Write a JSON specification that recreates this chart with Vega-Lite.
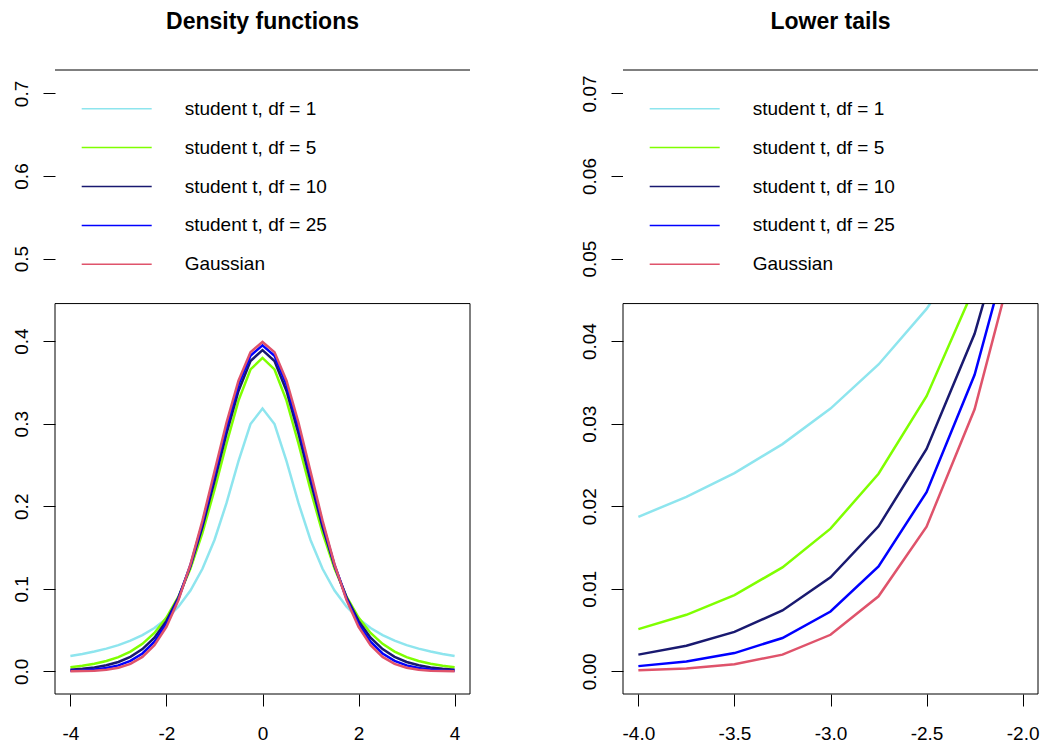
{
  "$schema": "https://vega.github.io/schema/vega-lite/v6.json",
  "background": "white",
  "padding": {"left": 12, "top": 10, "right": 3, "bottom": 3},
  "config": {
    "view": {"stroke": null},
    "font": "Liberation Sans",
    "axis": {"domain": false, "grid": false, "tickColor": "black", "tickSize": 12, "tickWidth": 1, "labelFont": "Liberation Sans", "labelFontSize": 19, "labelColor": "black", "labelOverlap": false, "labelFlush": false},
    "title": {"font": "Liberation Sans", "fontSize": 23, "fontWeight": "bold", "color": "black"},
    "legend": {"labelFont": "Liberation Sans", "labelFontSize": 19, "labelColor": "black", "labelLimit": 400, "padding": 0}
  },
  "datasets": {
    "dens": [
      {"x":-4,"series":"student t, df = 1","y":0.018724},{"x":-3.75,"series":"student t, df = 1","y":0.021133},{"x":-3.5,"series":"student t, df = 1","y":0.024023},{"x":-3.25,"series":"student t, df = 1","y":0.027530},{"x":-3,"series":"student t, df = 1","y":0.031831},{"x":-2.75,"series":"student t, df = 1","y":0.037175},{"x":-2.5,"series":"student t, df = 1","y":0.043905},{"x":-2.25,"series":"student t, df = 1","y":0.052505},{"x":-2,"series":"student t, df = 1","y":0.063662},{"x":-1.75,"series":"student t, df = 1","y":0.078353},{"x":-1.5,"series":"student t, df = 1","y":0.097942},{"x":-1.25,"series":"student t, df = 1","y":0.124218},{"x":-1,"series":"student t, df = 1","y":0.159155},{"x":-0.75,"series":"student t, df = 1","y":0.203718},{"x":-0.5,"series":"student t, df = 1","y":0.254648},{"x":-0.25,"series":"student t, df = 1","y":0.299586},{"x":0,"series":"student t, df = 1","y":0.318310},{"x":0.25,"series":"student t, df = 1","y":0.299586},{"x":0.5,"series":"student t, df = 1","y":0.254648},{"x":0.75,"series":"student t, df = 1","y":0.203718},{"x":1,"series":"student t, df = 1","y":0.159155},{"x":1.25,"series":"student t, df = 1","y":0.124218},{"x":1.5,"series":"student t, df = 1","y":0.097942},{"x":1.75,"series":"student t, df = 1","y":0.078353},{"x":2,"series":"student t, df = 1","y":0.063662},{"x":2.25,"series":"student t, df = 1","y":0.052505},{"x":2.5,"series":"student t, df = 1","y":0.043905},{"x":2.75,"series":"student t, df = 1","y":0.037175},{"x":3,"series":"student t, df = 1","y":0.031831},{"x":3.25,"series":"student t, df = 1","y":0.027530},{"x":3.5,"series":"student t, df = 1","y":0.024023},{"x":3.75,"series":"student t, df = 1","y":0.021133},{"x":4,"series":"student t, df = 1","y":0.018724},
      {"x":-4,"series":"student t, df = 5","y":0.005124},{"x":-3.75,"series":"student t, df = 5","y":0.006850},{"x":-3.5,"series":"student t, df = 5","y":0.009244},{"x":-3.25,"series":"student t, df = 5","y":0.012590},{"x":-3,"series":"student t, df = 5","y":0.017293},{"x":-2.75,"series":"student t, df = 5","y":0.023934},{"x":-2.5,"series":"student t, df = 5","y":0.033326},{"x":-2.25,"series":"student t, df = 5","y":0.046572},{"x":-2,"series":"student t, df = 5","y":0.065091},{"x":-1.75,"series":"student t, df = 5","y":0.090539},{"x":-1.5,"series":"student t, df = 5","y":0.124516},{"x":-1.25,"series":"student t, df = 5","y":0.167894},{"x":-1,"series":"student t, df = 5","y":0.219680},{"x":-0.75,"series":"student t, df = 5","y":0.275698},{"x":-0.5,"series":"student t, df = 5","y":0.327920},{"x":-0.25,"series":"student t, df = 5","y":0.365720},{"x":0,"series":"student t, df = 5","y":0.379607},{"x":0.25,"series":"student t, df = 5","y":0.365720},{"x":0.5,"series":"student t, df = 5","y":0.327920},{"x":0.75,"series":"student t, df = 5","y":0.275698},{"x":1,"series":"student t, df = 5","y":0.219680},{"x":1.25,"series":"student t, df = 5","y":0.167894},{"x":1.5,"series":"student t, df = 5","y":0.124516},{"x":1.75,"series":"student t, df = 5","y":0.090539},{"x":2,"series":"student t, df = 5","y":0.065091},{"x":2.25,"series":"student t, df = 5","y":0.046572},{"x":2.5,"series":"student t, df = 5","y":0.033326},{"x":2.75,"series":"student t, df = 5","y":0.023934},{"x":3,"series":"student t, df = 5","y":0.017293},{"x":3.25,"series":"student t, df = 5","y":0.012590},{"x":3.5,"series":"student t, df = 5","y":0.009244},{"x":3.75,"series":"student t, df = 5","y":0.006850},{"x":4,"series":"student t, df = 5","y":0.005124},
      {"x":-4,"series":"student t, df = 10","y":0.002031},{"x":-3.75,"series":"student t, df = 10","y":0.003110},{"x":-3.5,"series":"student t, df = 10","y":0.004783},{"x":-3.25,"series":"student t, df = 10","y":0.007382},{"x":-3,"series":"student t, df = 10","y":0.011400},{"x":-2.75,"series":"student t, df = 10","y":0.017573},{"x":-2.5,"series":"student t, df = 10","y":0.026939},{"x":-2.25,"series":"student t, df = 10","y":0.040893},{"x":-2,"series":"student t, df = 10","y":0.061146},{"x":-1.75,"series":"student t, df = 10","y":0.089528},{"x":-1.5,"series":"student t, df = 10","y":0.127446},{"x":-1.25,"series":"student t, df = 10","y":0.175100},{"x":-1,"series":"student t, df = 10","y":0.230362},{"x":-0.75,"series":"student t, df = 10","y":0.287973},{"x":-0.5,"series":"student t, df = 10","y":0.339695},{"x":-0.25,"series":"student t, df = 10","y":0.375999},{"x":0,"series":"student t, df = 10","y":0.389108},{"x":0.25,"series":"student t, df = 10","y":0.375999},{"x":0.5,"series":"student t, df = 10","y":0.339695},{"x":0.75,"series":"student t, df = 10","y":0.287973},{"x":1,"series":"student t, df = 10","y":0.230362},{"x":1.25,"series":"student t, df = 10","y":0.175100},{"x":1.5,"series":"student t, df = 10","y":0.127446},{"x":1.75,"series":"student t, df = 10","y":0.089528},{"x":2,"series":"student t, df = 10","y":0.061146},{"x":2.25,"series":"student t, df = 10","y":0.040893},{"x":2.5,"series":"student t, df = 10","y":0.026939},{"x":2.75,"series":"student t, df = 10","y":0.017573},{"x":3,"series":"student t, df = 10","y":0.011400},{"x":3.25,"series":"student t, df = 10","y":0.007382},{"x":3.5,"series":"student t, df = 10","y":0.004783},{"x":3.75,"series":"student t, df = 10","y":0.003110},{"x":4,"series":"student t, df = 10","y":0.002031},
      {"x":-4,"series":"student t, df = 25","y":0.000636},{"x":-3.75,"series":"student t, df = 25","y":0.001194},{"x":-3.5,"series":"student t, df = 25","y":0.002214},{"x":-3.25,"series":"student t, df = 25","y":0.004045},{"x":-3,"series":"student t, df = 25","y":0.007254},{"x":-2.75,"series":"student t, df = 25","y":0.012719},{"x":-2.5,"series":"student t, df = 25","y":0.021713},{"x":-2.25,"series":"student t, df = 25","y":0.035930},{"x":-2,"series":"student t, df = 25","y":0.057361},{"x":-1.75,"series":"student t, df = 25","y":0.087931},{"x":-1.5,"series":"student t, df = 25","y":0.128833},{"x":-1.25,"series":"student t, df = 25","y":0.179596},{"x":-1,"series":"student t, df = 25","y":0.237213},{"x":-0.75,"series":"student t, df = 25","y":0.295766},{"x":-0.5,"series":"student t, df = 25","y":0.347051},{"x":-0.25,"series":"student t, df = 25","y":0.382361},{"x":0,"series":"student t, df = 25","y":0.394976},{"x":0.25,"series":"student t, df = 25","y":0.382361},{"x":0.5,"series":"student t, df = 25","y":0.347051},{"x":0.75,"series":"student t, df = 25","y":0.295766},{"x":1,"series":"student t, df = 25","y":0.237213},{"x":1.25,"series":"student t, df = 25","y":0.179596},{"x":1.5,"series":"student t, df = 25","y":0.128833},{"x":1.75,"series":"student t, df = 25","y":0.087931},{"x":2,"series":"student t, df = 25","y":0.057361},{"x":2.25,"series":"student t, df = 25","y":0.035930},{"x":2.5,"series":"student t, df = 25","y":0.021713},{"x":2.75,"series":"student t, df = 25","y":0.012719},{"x":3,"series":"student t, df = 25","y":0.007254},{"x":3.25,"series":"student t, df = 25","y":0.004045},{"x":3.5,"series":"student t, df = 25","y":0.002214},{"x":3.75,"series":"student t, df = 25","y":0.001194},{"x":4,"series":"student t, df = 25","y":0.000636},
      {"x":-4,"series":"Gaussian","y":0.000134},{"x":-3.75,"series":"Gaussian","y":0.000353},{"x":-3.5,"series":"Gaussian","y":0.000873},{"x":-3.25,"series":"Gaussian","y":0.002029},{"x":-3,"series":"Gaussian","y":0.004432},{"x":-2.75,"series":"Gaussian","y":0.009094},{"x":-2.5,"series":"Gaussian","y":0.017528},{"x":-2.25,"series":"Gaussian","y":0.031740},{"x":-2,"series":"Gaussian","y":0.053991},{"x":-1.75,"series":"Gaussian","y":0.086277},{"x":-1.5,"series":"Gaussian","y":0.129518},{"x":-1.25,"series":"Gaussian","y":0.182649},{"x":-1,"series":"Gaussian","y":0.241971},{"x":-0.75,"series":"Gaussian","y":0.301137},{"x":-0.5,"series":"Gaussian","y":0.352065},{"x":-0.25,"series":"Gaussian","y":0.386668},{"x":0,"series":"Gaussian","y":0.398942},{"x":0.25,"series":"Gaussian","y":0.386668},{"x":0.5,"series":"Gaussian","y":0.352065},{"x":0.75,"series":"Gaussian","y":0.301137},{"x":1,"series":"Gaussian","y":0.241971},{"x":1.25,"series":"Gaussian","y":0.182649},{"x":1.5,"series":"Gaussian","y":0.129518},{"x":1.75,"series":"Gaussian","y":0.086277},{"x":2,"series":"Gaussian","y":0.053991},{"x":2.25,"series":"Gaussian","y":0.031740},{"x":2.5,"series":"Gaussian","y":0.017528},{"x":2.75,"series":"Gaussian","y":0.009094},{"x":3,"series":"Gaussian","y":0.004432},{"x":3.25,"series":"Gaussian","y":0.002029},{"x":3.5,"series":"Gaussian","y":0.000873},{"x":3.75,"series":"Gaussian","y":0.000353},{"x":4,"series":"Gaussian","y":0.000134}
    ]
  },
  "bounds": "flush",
  "spacing": 153,
  "resolve": {"scale": {"color": "independent"}},
  "hconcat": [
    {
      "width": 415,
      "height": 624,
      "title": {"text": "Density functions", "frame": "group", "anchor": "middle", "offset": 18, "baseline": "alphabetic"},
      "data": {"name": "dens"},
      "layer": [
        {
          "mark": {"type": "line", "strokeWidth": 2.5, "clip": true},
          "encoding": {
            "x": {"field": "x", "type": "quantitative", "scale": {"domain": [-4.32, 4.32], "nice": false, "zero": false},
                  "axis": {"title": null, "values": [-4, -2, 0, 2, 4], "format": "d", "labelExpr": "replace(datum.label, '\u2212', '-')", "labelPadding": 18}},
            "y": {"field": "y", "type": "quantitative", "scale": {"domain": [-0.0274, 0.7284], "nice": false, "zero": false},
                  "axis": {"title": null, "values": [0, 0.1, 0.2, 0.3, 0.4, 0.5, 0.6, 0.7], "format": ".1f", "labelAngle": 270, "labelAlign": "center", "labelBaseline": "alphabetic", "labelPadding": 16}},
            "color": {"field": "series", "type": "nominal",
                      "scale": {"domain": ["student t, df = 1", "student t, df = 5", "student t, df = 10", "student t, df = 25", "Gaussian"], "range": ["#8EE5EE", "#7FFF00", "#191970", "#0000FF", "#DF536B"]},
                      "legend": {"title": null, "orient": "none", "legendX": 25.7, "legendY": 20.2, "symbolType": "stroke", "symbolSize": 4900, "symbolStrokeWidth": 1.5, "labelOffset": 32, "clipHeight": 37, "rowPadding": 1.9}}
          }
        },
        {
          "data": {"values": [{}]},
          "mark": {"type": "rect", "filled": false, "stroke": "black", "strokeWidth": 1},
          "encoding": {"x": {"datum": -4.32}, "x2": {"datum": 4.32}, "y": {"datum": -0.0274}, "y2": {"datum": 0.4455}}
        },
        {
          "data": {"values": [{}]},
          "mark": {"type": "rule", "stroke": "black", "strokeWidth": 1},
          "encoding": {"x": {"datum": -4.32}, "x2": {"datum": 4.32}, "y": {"datum": 0.7284}}
        }
      ]
    },
    {
      "width": 415,
      "height": 624,
      "title": {"text": "Lower tails", "frame": "group", "anchor": "middle", "offset": 18, "baseline": "alphabetic"},
      "data": {"name": "dens"},
      "transform": [{"filter": {"field": "x", "lte": -2}}],
      "layer": [
        {
          "mark": {"type": "line", "strokeWidth": 2.5, "clip": true},
          "encoding": {
            "x": {"field": "x", "type": "quantitative", "scale": {"domain": [-4.08, -1.92], "nice": false, "zero": false},
                  "axis": {"title": null, "values": [-4, -3.5, -3, -2.5, -2], "format": ".1f", "labelExpr": "replace(datum.label, '\u2212', '-')", "labelPadding": 18}},
            "y": {"field": "y", "type": "quantitative", "scale": {"domain": [-0.00274, 0.07284], "nice": false, "zero": false},
                  "axis": {"title": null, "values": [0, 0.01, 0.02, 0.03, 0.04, 0.05, 0.06, 0.07], "format": ".2f", "labelAngle": 270, "labelAlign": "center", "labelBaseline": "alphabetic", "labelPadding": 16}},
            "color": {"field": "series", "type": "nominal",
                      "scale": {"domain": ["student t, df = 1", "student t, df = 5", "student t, df = 10", "student t, df = 25", "Gaussian"], "range": ["#8EE5EE", "#7FFF00", "#191970", "#0000FF", "#DF536B"]},
                      "legend": {"title": null, "orient": "none", "legendX": 25.7, "legendY": 20.2, "symbolType": "stroke", "symbolSize": 4900, "symbolStrokeWidth": 1.5, "labelOffset": 32, "clipHeight": 37, "rowPadding": 1.9}}
          }
        },
        {
          "data": {"values": [{}]},
          "mark": {"type": "rect", "fill": "white", "strokeWidth": 0},
          "encoding": {"x": {"datum": -4.08}, "x2": {"datum": -1.92}, "y": {"datum": 0.04455}, "y2": {"datum": 0.07284}}
        },
        {
          "data": {"values": [{}]},
          "mark": {"type": "rect", "filled": false, "stroke": "black", "strokeWidth": 1},
          "encoding": {"x": {"datum": -4.08}, "x2": {"datum": -1.92}, "y": {"datum": -0.00274}, "y2": {"datum": 0.04455}}
        },
        {
          "data": {"values": [{}]},
          "mark": {"type": "rule", "stroke": "black", "strokeWidth": 1},
          "encoding": {"x": {"datum": -4.08}, "x2": {"datum": -1.92}, "y": {"datum": 0.07284}}
        }
      ]
    }
  ]
}
